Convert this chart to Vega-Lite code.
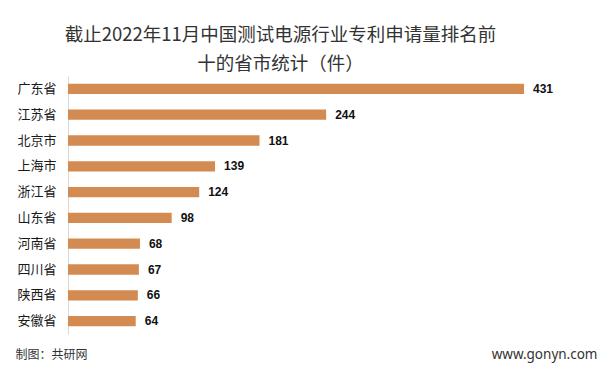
{
  "$schema": "https://vega.github.io/schema/vega-lite/v6.json",
  "width": 529,
  "height": 258,
  "autosize": "none",
  "padding": {"left": 68, "top": 76, "right": 14, "bottom": 39},
  "background": "white",
  "config": {"view": {"stroke": null}, "font": "Noto Sans CJK SC"},
  "title": {
    "text": ["截止2022年11月中国测试电源行业专利申请量排名前", "十的省市统计（件）"],
    "anchor": "middle",
    "dx": -52,
    "offset": 3,
    "fontSize": 18.5,
    "fontWeight": "normal",
    "color": "#333333",
    "lineHeight": 29,
    "font": "Noto Sans CJK SC"
  },
  "data": {
    "values": [
      {"province": "广东省", "count": 431},
      {"province": "江苏省", "count": 244},
      {"province": "北京市", "count": 181},
      {"province": "上海市", "count": 139},
      {"province": "浙江省", "count": 124},
      {"province": "山东省", "count": 98},
      {"province": "河南省", "count": 68},
      {"province": "四川省", "count": 67},
      {"province": "陕西省", "count": 66},
      {"province": "安徽省", "count": 64}
    ]
  },
  "encoding": {
    "y": {
      "field": "province",
      "type": "nominal",
      "sort": null,
      "scale": {"paddingInner": 0.6, "paddingOuter": 0.3},
      "axis": {
        "title": "制图：共研网",
        "titleAngle": 0,
        "titleX": -53,
        "titleY": 282,
        "titleAlign": "left",
        "titleBaseline": "alphabetic",
        "titleFontSize": 12,
        "titleFontWeight": "normal",
        "titleColor": "#333333",
        "labelFontSize": 13,
        "labelColor": "#1a1a1a",
        "labelPadding": 12,
        "ticks": false,
        "domainColor": "#d9d9d9",
        "domainWidth": 1
      }
    },
    "x": {
      "field": "count",
      "type": "quantitative",
      "scale": {"domain": [0, 500]},
      "axis": {
        "title": "www.gonyn.com",
        "titleX": 529,
        "titleY": 24,
        "titleAlign": "right",
        "titleAnchor": null,
        "titleBaseline": "alphabetic",
        "titleFontSize": 13.5,
        "titleFontWeight": "normal",
        "titleColor": "#333333",
        "titleFont": "Noto Sans",
        "labels": false,
        "ticks": false,
        "grid": false,
        "domain": false
      }
    }
  },
  "layer": [
    {"mark": {"type": "bar", "color": "#D48B51"}},
    {
      "mark": {
        "type": "text",
        "align": "left",
        "baseline": "middle",
        "dx": 9,
        "fontSize": 12,
        "fontWeight": "bold",
        "color": "#111111",
        "font": "Liberation Sans"
      },
      "encoding": {"text": {"field": "count", "type": "quantitative"}}
    }
  ]
}
